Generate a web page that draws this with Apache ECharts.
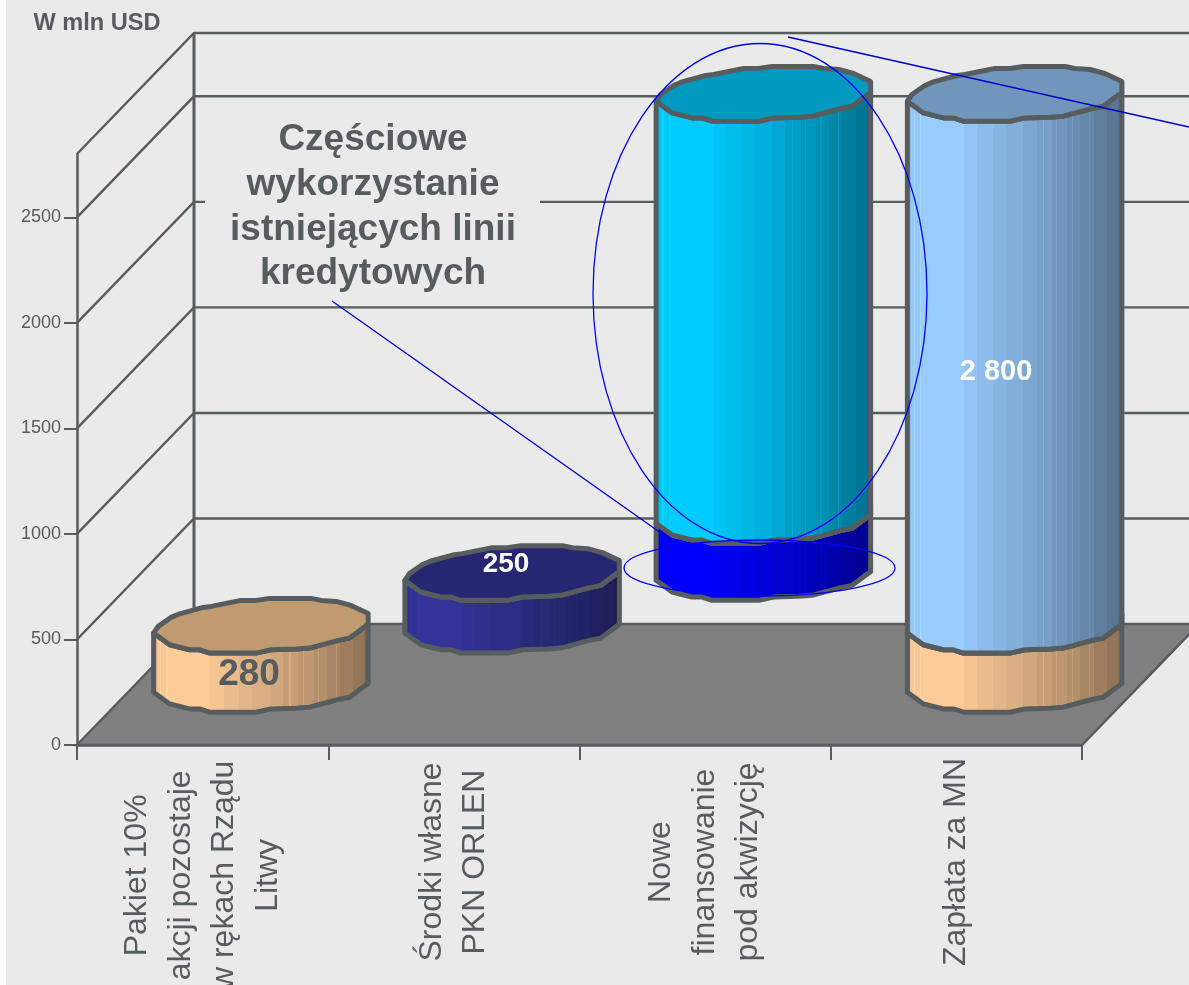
<!DOCTYPE html>
<html>
<head>
<meta charset="utf-8">
<style>
  html, body { margin: 0; padding: 0; background: #eaeaea; }
  #chart { width: 1189px; height: 985px; }
</style>
<script src="https://cdn.jsdelivr.net/npm/echarts@6/dist/echarts.min.js"></script>
</head>
<body>
<div id="chart"></div>
<script>
var categories = [
  'Pakiet 10%\nakcji pozostaje\nw rękach Rządu\nLitwy',
  'Środki własne\nPKN ORLEN',
  'Nowe\nfinansowanie\npod akwizycję',
  'Zapłata za MN'
];
var yTicks = [0, 500, 1000, 1500, 2000, 2500];
var yMax = 2800;

// stack order per category: hidden offset, peach, navy, blue, cyan, sky
var offsetValues = [0, 280, 530, 0];
var peachValues = [280, 0, 0, 280];
var navyValues = [0, 250, 0, 0];
var blueValues = [0, 0, 270, 0];
var cyanValues = [0, 0, 2000, 0];
var skyValues = [0, 0, 0, 2520];

var stacked = [peachValues, navyValues, blueValues, cyanValues, skyValues];
var palette = [
  { body: [255, 204, 153], top: '#c09a70' },
  { body: [51, 51, 153], top: '#262673' },
  { body: [0, 0, 255], top: '#0000c0' },
  { body: [0, 204, 255], top: '#0099c0' },
  { body: [153, 204, 255], top: '#7096bc' }
];

// 3d look of the box
var depthX = 117, depthY = -121;
var lineColor = '#575d5e';

// outline of a cylinder's end, wavy like the original, clockwise from the left
var rim = [
  [-107.5, 7.7], [-103, 1], [-90, -8], [-81.5, -11.6], [-58, -18], [-50, -19], [-20, -25], [-5, -25],
  [8.5, -27], [50, -27], [60, -25], [75, -24], [90, -20], [107, -12],
  [107, -1], [100, 4], [88.5, 12.7], [77, 15], [48.5, 22.7], [35, 23.7], [10, 24.4], [-5, 27.7],
  [-51.5, 27.7], [-61.5, 24.4], [-71.5, 24.4], [-91.5, 19.4]
];
var frontArc = [14, 15, 16, 17, 18, 19, 20, 21, 22, 23, 24, 25, 0];

// banding across the cylinder: [offset, shade]
var bands = [
  [0, 0.93], [0.03, 0.98], [0.07, 1], [0.27, 0.96], [0.33, 0.92], [0.4, 0.89], [0.46, 0.86],
  [0.54, 0.82], [0.6, 0.78], [0.67, 0.74], [0.74, 0.7], [0.8, 0.66], [0.86, 0.62], [0.92, 0.58], [0.97, 0.54]
];
var stripes = [0.04, 0.07, 0.11, 0.18, 0.63, 0.69, 0.76, 0.84];

function shadeColor(c, s) {
  return 'rgb(' + Math.round(c[0] * s) + ',' + Math.round(c[1] * s) + ',' + Math.round(c[2] * s) + ')';
}

function bodyFill(c) {
  var stops = [];
  bands.forEach(function (b, i) {
    var end = i + 1 < bands.length ? bands[i + 1][0] : 1;
    var s = b[1];
    var stripe = stripes.filter(function (o) { return o >= b[0] && o < end; })[0];
    stops.push({ offset: b[0], color: shadeColor(c, s) });
    if (stripe !== undefined) {
      // thin lighter line inside the band
      stops.push({ offset: stripe, color: shadeColor(c, s) });
      stops.push({ offset: stripe, color: shadeColor(c, s + 0.07) });
      stops.push({ offset: stripe + 0.005, color: shadeColor(c, s + 0.07) });
      stops.push({ offset: stripe + 0.005, color: shadeColor(c, s) });
    }
    stops.push({ offset: end, color: shadeColor(c, s) });
  });
  return new echarts.graphic.LinearGradient(0, 0, 1, 0, stops);
}

var segmentData = [];
categories.forEach(function (c, i) {
  var start = offsetValues[i];
  stacked.forEach(function (values, k) {
    if (values[i] > 0) {
      segmentData.push([i, start, start + values[i], k]);
      start += values[i];
    }
  });
});

function renderWall(params, api) {
  var sys = params.coordSys;
  var v = api.value(1);
  var y = api.coord([0, v])[1];
  var left = sys.x, right = sys.x + sys.width;
  var children = [];
  if (v === 0) {
    children.push({
      type: 'polygon',
      shape: { points: [[left, y], [right, y], [right + depthX, y + depthY], [left + depthX, y + depthY]] },
      style: { fill: '#808080', stroke: lineColor, lineWidth: 2.5 }
    });
    children.push({
      type: 'line',
      shape: { x1: left + depthX, y1: y + depthY, x2: left + depthX, y2: sys.y + depthY },
      style: { stroke: lineColor, lineWidth: 3 }
    });
  } else {
    children.push({
      type: 'polyline',
      shape: { points: [[left, y], [left + depthX, y + depthY], [right + depthX, y + depthY]] },
      style: { stroke: lineColor, lineWidth: 2.4, fill: null }
    });
  }
  return { type: 'group', children: children };
}

function renderSegment(params, api) {
  var i = api.value(0);
  var kind = palette[api.value(3)];
  var low = api.coord([i, api.value(1)]);
  var high = api.coord([i, api.value(2)]);
  var cx = low[0] + depthX / 2, yLow = low[1] + depthY / 2, yHigh = high[1] + depthY / 2;
  var points = [];
  frontArc.forEach(function (k) { points.push([cx + rim[k][0], yHigh + rim[k][1]]); });
  frontArc.slice().reverse().forEach(function (k) { points.push([cx + rim[k][0], yLow + rim[k][1]]); });
  var top = rim.map(function (p) { return [cx + p[0], yHigh + p[1]]; });
  return {
    type: 'group',
    children: [
      { type: 'polygon', shape: { points: points }, style: { fill: bodyFill(kind.body), stroke: lineColor, lineWidth: 5, lineJoin: 'round' } },
      { type: 'polygon', shape: { points: top }, style: { fill: kind.top, stroke: lineColor, lineWidth: 5, lineJoin: 'round' } }
    ]
  };
}

function note(text, x, y, size, color, lineHeight) {
  return {
    type: 'text', x: x, y: y, z: 100,
    style: {
      text: text, fill: color, align: 'center', verticalAlign: 'middle',
      font: 'bold ' + size + 'px "Liberation Sans", Arial, sans-serif', lineHeight: lineHeight
    }
  };
}

var chart = echarts.init(document.getElementById('chart'), null, { renderer: 'canvas' });

chart.setOption({
  backgroundColor: '#eaeaea',
  animation: false,
  // labels run off the bottom in the original, the plot must not shrink for them
  grid: { left: 77, top: 154, width: 1005, height: 591, outerBoundsMode: 'none' },
  xAxis: {
    type: 'category',
    data: categories,
    axisLine: { lineStyle: { color: lineColor, width: 2.5 } },
    axisTick: { show: true, alignWithLabel: false, length: 15, lineStyle: { color: lineColor, width: 2 } },
    axisLabel: {
      interval: 0, rotate: 90, align: 'center', verticalAlign: 'middle', margin: 117,
      // the first label sits a bit lower than the others in the original
      formatter: function (v, i) { return i === 0 ? v.split('\n').join('   \n') + '   ' : v; },
      fontFamily: '"Liberation Sans", Arial, sans-serif', fontSize: 32, lineHeight: 43.5, color: lineColor
    }
  },
  yAxis: {
    type: 'value',
    min: 0,
    max: yMax,
    splitLine: { show: false },
    axisLine: { show: true, lineStyle: { color: lineColor, width: 2.5 } },
    axisTick: { show: true, length: 13, customValues: yTicks, lineStyle: { color: lineColor, width: 2 } },
    axisLabel: {
      customValues: yTicks, margin: 16, color: lineColor, padding: [6, 0, 0, 0],
      formatter: function (v) { return String(v); },
      fontFamily: '"Liberation Sans", Arial, sans-serif', fontSize: 18
    }
  },
  series: [
    {
      type: 'custom', z: 1, silent: true, renderItem: renderWall,
      encode: { x: 0, y: 1 },
      data: yTicks.concat([yMax]).map(function (v) { return [0, v]; })
    },
    {
      type: 'custom', z: 3, silent: true, renderItem: renderSegment,
      encode: { x: 0, y: [1, 2] },
      data: segmentData
    }
  ],
  graphic: [
    { type: 'rect', z: 99, shape: { x: 0, y: 0, width: 6, height: 985 }, style: { fill: '#ffffff' } },
    { type: 'rect', z: 99, shape: { x: 205, y: 190, width: 335, height: 22 }, style: { fill: '#eaeaea' } },
    { type: 'ellipse', z: 100, shape: { cx: 760, cy: 293.5, rx: 167, ry: 250 }, style: { fill: null, stroke: '#0000ff', lineWidth: 1.3 } },
    { type: 'ellipse', z: 100, shape: { cx: 759.5, cy: 568, rx: 135.5, ry: 28 }, style: { fill: null, stroke: '#0000ff', lineWidth: 1.3 } },
    { type: 'line', z: 100, shape: { x1: 332, y1: 301, x2: 668, y2: 538 }, style: { stroke: '#0000cc', lineWidth: 1.3 } },
    { type: 'line', z: 100, shape: { x1: 788, y1: 37, x2: 1189, y2: 127 }, style: { stroke: '#0000cc', lineWidth: 1.5 } },
    note('W mln USD', 97, 23, 23.6, lineColor),
    note('Częściowe\nwykorzystanie\nistniejących linii\nkredytowych', 373, 207, 37, lineColor, 44.7),
    note('280', 249, 675, 37, lineColor),
    note('250', 506, 564, 28, '#ffffff'),
    note('2 800', 996, 372, 29, '#ffffff')
  ]
});
</script>
</body>
</html>
